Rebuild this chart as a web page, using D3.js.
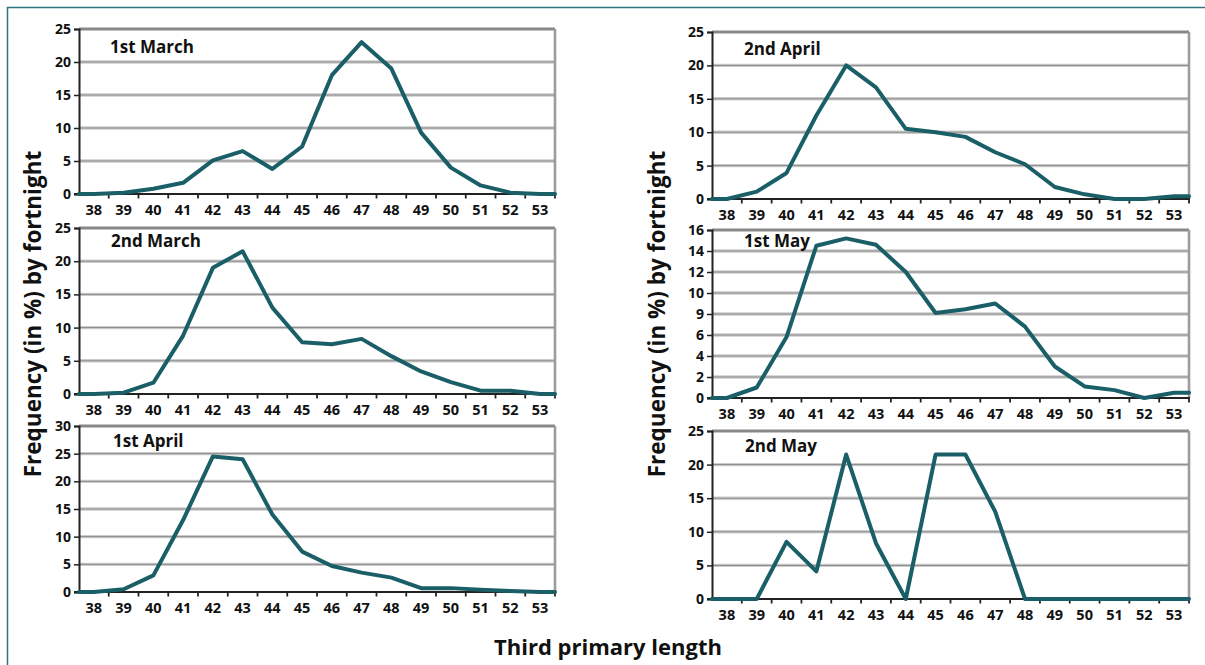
<!DOCTYPE html>
<html>
<head>
<meta charset="utf-8">
<script src="https://cdn.jsdelivr.net/npm/d3@7"></script>
<style>
  html, body { margin: 0; padding: 0; background: #fff; }
  svg { display: block; }
  text { font-family: "Open Sans", "Noto Sans", sans-serif; font-weight: 700; fill: #111; }
</style>
</head>
<body>
<svg id="chart" width="1205" height="665"></svg>
<script>
// ---- data ----
const categories = ["38","39","40","41","42","43","44","45","46","47","48","49","50","51","52","53"];

const panelTitles = ["1st March", "2nd March", "1st April", "2nd April", "1st May", "2nd May"];

const march1 = [0, 0.2, 0.8, 1.7, 5.1, 6.5, 3.8, 7.2, 18, 23, 19, 9.3, 4, 1.3, 0.2, 0];
const march2 = [0, 0.2, 1.7, 8.8, 19, 21.5, 13, 7.8, 7.5, 8.3, 5.7, 3.4, 1.8, 0.5, 0.5, 0];
const april1 = [0, 0.5, 3, 13, 24.5, 24, 14, 7.3, 4.7, 3.5, 2.6, 0.7, 0.7, 0.4, 0.2, 0];
const april2 = [0, 1.1, 3.9, 12.5, 20, 16.7, 10.5, 10, 9.3, 7, 5.2, 1.8, 0.7, 0, 0, 0.4];
const may1   = [0, 1, 5.8, 14.5, 15.2, 14.6, 12, 8.1, 8.45, 9, 6.8, 3, 1.1, 0.75, 0, 0.5];
const may2   = [0, 0, 8.5, 4.1, 21.5, 8.3, 0, 21.5, 21.5, 13, 0, 0, 0, 0, 0, 0];

const yTicks25 = [0, 5, 10, 15, 20, 25];
const yTicks30 = [0, 5, 10, 15, 20, 25, 30];
const yTicks16 = [0, 2, 4, 6, 8, 10, 12, 14, 16];
const yTickLabels16 = ["0", "2", "4", "6", "9", "10", "12", "14", "16"];

const yAxisTitle = "Frequency (in %) by fortnight";
const xAxisTitle = "Third primary length";

// ---- layout ----
const LINE = "#1a5f67";
const svg = d3.select("#chart");

// outer frame
svg.append("rect")
  .attr("x", 7.5).attr("y", 7.5)
  .attr("width", 1230).attr("height", 700)
  .attr("fill", "none").attr("stroke", "#2f7580").attr("stroke-width", 1.5);

const panels = [
  { title: panelTitles[0], values: march1, ticks: yTicks25, labels: null, x0: 79, x1: 555, top: 29, bottom: 194, tx: 110, ty: 53 },
  { title: panelTitles[1], values: march2, ticks: yTicks25, labels: null, x0: 79, x1: 555, top: 228, bottom: 394, tx: 111, ty: 247 },
  { title: panelTitles[2], values: april1, ticks: yTicks30, labels: null, x0: 79, x1: 555, top: 426, bottom: 592, tx: 113, ty: 447 },
  { title: panelTitles[3], values: april2, ticks: yTicks25, labels: null, x0: 712, x1: 1189, top: 32, bottom: 199, tx: 744, ty: 55 },
  { title: panelTitles[4], values: may1, ticks: yTicks16, labels: yTickLabels16, x0: 712, x1: 1189, top: 230, bottom: 398, tx: 744, ty: 247 },
  { title: panelTitles[5], values: may2, ticks: yTicks25, labels: null, x0: 712, x1: 1189, top: 431, bottom: 599, tx: 745, ty: 452 }
];

panels.forEach(p => {
  const g = svg.append("g");
  const x = d3.scaleBand().domain(categories).range([p.x0, p.x1]).paddingInner(0).paddingOuter(0);
  const y = d3.scaleLinear().domain([0, d3.max(p.ticks)]).range([p.bottom, p.top]);

  // gridlines (3D-ish grey)
  const gridVals = p.ticks.filter(t => t > 0);
  g.selectAll("line.gu").data(gridVals).enter().append("line")
    .attr("x1", p.x0).attr("x2", p.x1)
    .attr("y1", d => y(d)).attr("y2", d => y(d))
    .attr("stroke", "#cdcdcd").attr("stroke-width", 3.4);
  g.selectAll("line.go").data(gridVals).enter().append("line")
    .attr("x1", p.x0).attr("x2", p.x1)
    .attr("y1", d => y(d)).attr("y2", d => y(d))
    .attr("stroke", "#888").attr("stroke-width", 1);
  // top border darker
  g.append("line")
    .attr("x1", p.x0).attr("x2", p.x1)
    .attr("y1", p.top).attr("y2", p.top)
    .attr("stroke", "#888").attr("stroke-width", 2.4);
  // right border
  g.append("line")
    .attr("x1", p.x1).attr("x2", p.x1)
    .attr("y1", p.top).attr("y2", p.bottom)
    .attr("stroke", "#9c9c9c").attr("stroke-width", 2.6);

  // y axis
  const yAxis = d3.axisLeft(y).tickValues(p.ticks).tickSize(5).tickPadding(3)
    .tickFormat((d, i) => p.labels ? p.labels[i] : String(d));
  const ya = g.append("g").attr("transform", `translate(${p.x0},0)`).call(yAxis);
  ya.select(".domain").attr("stroke", "#222").attr("stroke-width", 2);
  ya.selectAll(".tick line").attr("stroke", "#222").attr("stroke-width", 1.5);
  ya.selectAll(".tick text").style("font-size", "14px").attr("fill", "#111");

  // x axis: ticks at band boundaries, labels at band centres
  const xa = g.append("g").attr("transform", `translate(0,${p.bottom})`);
  xa.append("line").attr("x1", p.x0 - 5).attr("x2", p.x1 + 1)
    .attr("y1", 0).attr("y2", 0).attr("stroke", "#222").attr("stroke-width", 2.2);
  xa.selectAll("line.tk").data(categories.slice(1)).enter().append("line")
    .attr("x1", d => x(d)).attr("x2", d => x(d))
    .attr("y1", 0).attr("y2", 4.5)
    .attr("stroke", "#222").attr("stroke-width", 1.8);
  xa.append("line").attr("x1", p.x1).attr("x2", p.x1).attr("y1", 0).attr("y2", 4.5)
    .attr("stroke", "#222").attr("stroke-width", 1.8);
  xa.selectAll("text").data(categories).enter().append("text")
    .attr("x", d => x(d) + x.bandwidth() / 2)
    .attr("y", 21)
    .attr("text-anchor", "middle")
    .style("font-size", "14.5px")
    .text(d => d);

  // data line (extended flat to the plot edges)
  const pts = p.values.map((v, i) => [x(categories[i]) + x.bandwidth() / 2, y(v)]);
  pts.unshift([p.x0, y(p.values[0])]);
  pts.push([p.x1, y(p.values[p.values.length - 1])]);
  g.append("path")
    .attr("d", d3.line()(pts))
    .attr("fill", "none")
    .attr("stroke", LINE)
    .attr("stroke-width", 4)
    .attr("stroke-linejoin", "round")
    .attr("stroke-linecap", "round");

  // title
  g.append("text")
    .attr("x", p.tx).attr("y", p.ty)
    .style("font-size", "17px")
    .text(p.title);
});

// axis titles
[33, 657].forEach(cx => {
  svg.append("text")
    .attr("transform", `translate(${cx + 8},314) rotate(-90)`)
    .attr("text-anchor", "middle")
    .style("font-size", "22.5px")
    .text(yAxisTitle);
});
svg.append("text")
  .attr("x", 608).attr("y", 655)
  .attr("text-anchor", "middle")
  .style("font-size", "22px")
  .text(xAxisTitle);
</script>
</body>
</html>
